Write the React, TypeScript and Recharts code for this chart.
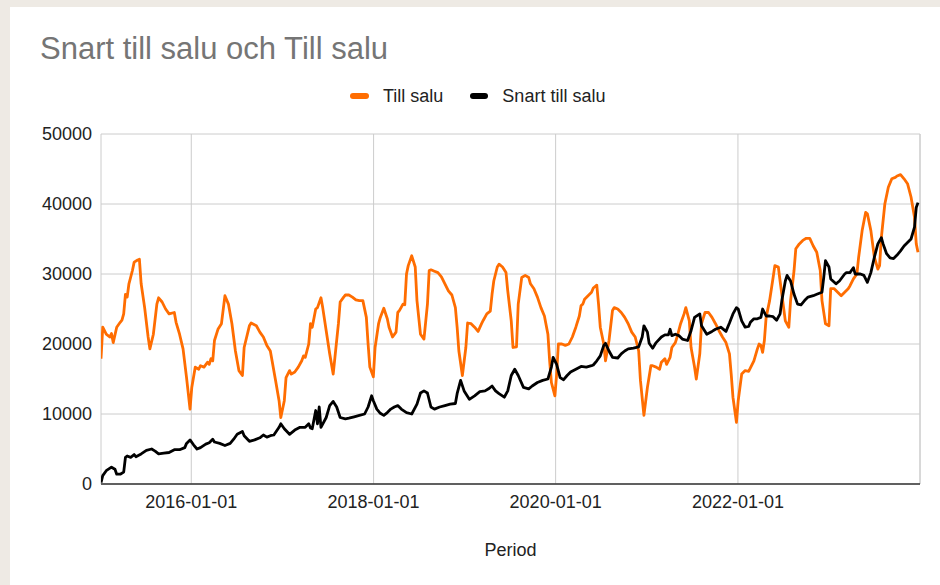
import React from 'react';
import { LineChart, Line, XAxis, YAxis, CartesianGrid, ReferenceLine } from 'recharts';

// Weekly periods, counted in weeks since 2015-01-04
const START = Date.UTC(2015, 0, 4);
const END = Date.UTC(2024, 0, 1);
const WEEK_MS = 7 * 86400000;

const xTickLabels = ['2016-01-01', '2018-01-01', '2020-01-01', '2022-01-01'];
const yTicks = [0, 10000, 20000, 30000, 40000, 50000];

// [week index, value]
const tillSalu: [number, number][] = [
  [0,17900],[1,22400],[3,21400],[5,21000],[6,21500],[7,20200],[9,22400],[11,23100],[12,23400],[13,24300],[14,27100],[15,26700],[16,28600],[18,30500],[19,31700],[21,32000],[22,32100],[23,28600],[25,25200],[27,21000],[28,19300],[30,21400],[32,25700],[33,26600],[35,26000],[37,25000],[39,24300],[42,24500],[43,23100],[45,21400],[47,19300],[49,15200],[51,10700],[52,13800],[54,16700],[56,16400],[57,16900],[59,16700],[61,17400],[62,17100],[63,17900],[64,17600],[65,20500],[67,22100],[69,22900],[71,26900],[73,25700],[75,22900],[77,19000],[79,16200],[81,15500],[82,19500],[85,22600],[86,23000],[89,22600],[91,21700],
  [93,21000],[95,19800],[97,19000],[98,17600],[100,14800],[102,11900],[103,9500],[105,11900],[106,15200],[108,16200],[109,15700],[111,16000],[113,16700],[115,17600],[116,18300],[117,18100],[119,20000],[120,22900],[121,22400],[123,25000],[124,25200],[126,26600],[127,25200],[129,21900],[131,18600],[133,15700],[134,18100],[136,22900],[137,26000],[139,26700],[140,27000],[142,27000],[144,26700],[146,26300],[148,26200],[150,26200],[152,23800],[153,20000],[154,16700],[156,15300],[157,19500],[159,22900],[160,23800],[162,25100],[164,23600],[165,22400],[167,21000],[169,21700],[170,24500],[171,24800],[173,25700],[174,25600],[175,30000],[176,31200],[178,32600],[180,31000],[181,26200],[183,21400],[185,20700],[187,25700],[188,30500],
  [189,30600],[191,30400],[193,30200],[195,29600],[197,28600],[199,27600],[201,27000],[203,25200],[204,22400],[205,19000],[207,15500],[209,19500],[210,23000],[212,22900],[214,22400],[216,21800],[218,22900],[219,23400],[221,24300],[223,24700],[224,27100],[225,29000],[227,31000],[228,31400],[230,31000],[232,30200],[233,27600],[235,23300],[236,19500],[238,19600],[239,25700],[241,29500],[243,29800],[245,29500],[246,28600],[248,27900],[250,26700],[252,25200],[254,24000],[256,21400],[257,17600],[258,14500],[260,12600],[261,15700],[262,20000],[264,20000],[266,19800],[268,20000],[270,21000],[272,22400],[274,24000],[275,25500],[276,25700],[277,26400],[279,26900],[281,27400],[282,28000],[284,28400],
  [285,25700],[286,22400],[288,20000],[289,17600],[291,20500],[293,24800],[294,25200],[296,25000],[298,24500],[300,23800],[302,22900],[304,21700],[306,21000],[308,19000],[309,14800],[311,9800],[313,13800],[315,16900],[316,16900],[318,16700],[320,16400],[321,17400],[323,17900],[324,17100],[326,18100],[327,19500],[329,20200],[330,21000],[332,22900],[334,24300],[335,25200],[337,23300],[338,19500],[340,16700],[341,15000],[343,18600],[344,22900],[346,24500],[348,24500],[350,23800],[352,22900],[354,21900],[356,21000],[358,20200],[360,18600],[361,15700],[362,12400],[364,8800],[365,11900],[367,15700],[369,16200],[371,16100],[372,16600],[374,17600],[376,19300],[377,20000],
  [378,19800],[379,18800],[380,20500],[381,23800],[383,26200],[385,29500],[386,31200],[388,31000],[389,29000],[391,25200],[392,23300],[394,22400],[395,26200],[397,30500],[398,33600],[400,34300],[402,34800],[404,35100],[406,35100],[408,34000],[410,33100],[412,30500],[413,26200],[415,22900],[417,22600],[418,27900],[420,27900],[422,27400],[424,26900],[426,27400],[428,27900],[429,28300],[431,29300],[433,30000],[434,32400],[436,36200],[438,38800],[439,38600],[441,36200],[443,32400],[445,30700],[446,31200],[447,35200],[449,40000],[451,42400],[453,43600],[455,43800],[456,44000],[458,44200],[460,43600],[462,42900],[464,41000],[466,38100],[467,34300],[468,33100],
];

const snartTillSalu: [number, number][] = [
  [0,200],[1,1200],[3,1900],[6,2400],[8,2100],[9,1400],[11,1400],[13,1700],[14,3800],[15,4000],[17,3800],[19,4200],[20,3900],[23,4300],[26,4800],[29,5000],[31,4700],[33,4300],[36,4400],[39,4500],[42,4900],[45,4900],[48,5200],[49,5800],[51,6300],[53,5600],[55,5000],[57,5200],[60,5700],[62,5900],[64,6400],[65,6000],[68,5800],[71,5500],[74,5800],[76,6400],[78,7100],[81,7500],[82,6900],[85,6100],[88,6300],[91,6600],
  [93,7000],[95,6700],[97,6900],[99,7000],[102,8100],[103,8600],[105,7900],[108,7100],[111,7700],[114,8100],[117,8100],[119,8600],[120,8000],[121,7900],[123,10500],[124,8600],[125,11000],[126,8100],[129,9500],[131,11200],[133,11800],[135,11000],[137,9500],[140,9300],[142,9400],[145,9600],[148,9800],[151,10000],[153,11000],[155,12600],[156,11900],[158,10700],[160,10100],[162,9800],[164,10200],[166,10700],[168,11000],[170,11200],[172,10700],[175,10200],[178,10000],[181,11400],[183,13000],[185,13300],
  [187,13000],[189,11000],[191,10700],[194,11000],[197,11200],[200,11400],[203,11500],[204,12900],[206,14800],[208,13300],[211,12100],[214,12600],[217,13200],[220,13300],[222,13600],[224,14000],[226,13300],[228,12900],[231,12400],[233,13300],[235,15500],[237,16400],[239,15500],[242,13800],[245,13600],[247,14000],[250,14500],[253,14800],[256,15000],[258,16700],[259,18100],[261,17100],[263,15200],[265,14900],[267,15500],[269,16000],[272,16400],[275,16800],[278,16700],[281,16900],
  [282,17000],[284,17600],[286,18300],[288,19800],[289,20100],[291,19000],[293,18100],[296,18000],[298,18600],[300,19000],[302,19300],[305,19400],[308,19600],[310,21000],[311,22600],[313,21700],[314,20100],[316,19400],[318,20200],[321,21000],[323,21300],[325,21300],[326,22100],[327,21200],[329,21400],[331,21200],[333,20700],[336,20500],[338,21900],[340,23800],[343,24300],[344,22600],[347,21400],[350,21800],[352,22100],[355,22400],[358,21800],[360,23000],[362,24300],[364,25200],[365,25000],[367,23300],[369,22400],[371,22500],[372,23100],[374,23600],[376,23600],
  [378,23800],[379,25000],[381,24000],[383,24000],[385,23900],[387,23400],[389,24300],[390,26200],[392,29000],[393,29800],[395,29000],[397,27100],[399,25700],[401,25600],[403,26200],[405,26700],[408,26900],[410,27100],[413,27400],[414,29500],[415,31900],[417,31000],[418,29300],[421,28600],[423,29000],[426,30000],[427,30200],[429,30200],[431,30900],[432,30000],[435,30000],[437,29800],[439,28800],[441,30200],[443,32400],[445,34300],[447,35200],[448,34300],[450,32900],[452,32300],[454,32200],[456,32700],[458,33300],[460,34000],[462,34500],[464,35000],[466,36700],[467,39500],[468,40200],
];

const toRows = (pts: [number, number][]) => pts.map(([w, v]) => ({ t: START + w * WEEK_MS, v }));
const tillRows = toRows(tillSalu);
const snartRows = toRows(snartTillSalu);
const xTicks = xTickLabels.map((d) => Date.parse(d + 'T00:00:00Z'));

const fmtDate = (t: number) => new Date(t).toISOString().slice(0, 10);

const FONT = '"Liberation Sans", Arial, sans-serif';
const ORANGE = '#ff6d01';

export default function App() {
  return (
    <div style={{ position: 'fixed', left: 0, top: 0, width: 940, height: 585, background: '#eeeae4', overflow: 'hidden', fontFamily: FONT }}>
      <div style={{ position: 'absolute', left: 10, top: 7, right: -20, bottom: -20, background: '#ffffff' }} />
      <div style={{ position: 'absolute', left: 40, top: 33, fontSize: 31, lineHeight: '31px', color: '#757575', whiteSpace: 'nowrap' }}>
        Snart till salu och Till salu
      </div>
      <div style={{ position: 'absolute', left: 350, top: 87, height: 18, display: 'flex', alignItems: 'center', fontSize: 18, lineHeight: '18px', color: '#222', whiteSpace: 'nowrap' }}>
        <span style={{ display: 'inline-block', width: 19, height: 6, borderRadius: 3, background: ORANGE, marginRight: 14 }} />
        <span>Till salu</span>
        <span style={{ display: 'inline-block', width: 18, height: 6, borderRadius: 3, background: '#000', marginLeft: 27, marginRight: 14 }} />
        <span>Snart till salu</span>
      </div>
      <div style={{ position: 'absolute', left: 0, top: 0 }}>
        <LineChart width={940} height={585} margin={{ top: 134, right: 20, bottom: 0, left: 0 }}>
          <CartesianGrid stroke="#cccccc" strokeWidth={1} />
          <XAxis
            dataKey="t"
            type="number"
            scale="linear"
            domain={[START, END]}
            allowDataOverflow
            ticks={xTicks}
            tickFormatter={fmtDate}
            height={101}
            tickLine={false}
            tickSize={9}
            tickMargin={2}
            axisLine={{ stroke: '#333333', strokeWidth: 1.5 }}
            tick={{ fill: '#222', fontSize: 18, fontFamily: FONT }}
            label={{ value: 'Period', position: 'insideBottom', offset: 29, fill: '#222', fontSize: 18, fontFamily: FONT }}
          />
          <YAxis
            type="number"
            domain={[0, 50000]}
            ticks={yTicks}
            width={101}
            axisLine={false}
            tickLine={false}
            tickSize={7}
            tickMargin={2}
            tick={{ fill: '#222', fontSize: 18, fontFamily: FONT }}
          />
          <ReferenceLine x={END} stroke="#cccccc" strokeWidth={1} ifOverflow="visible" />
          <Line data={tillRows} dataKey="v" name="Till salu" type="linear" stroke={ORANGE} strokeWidth={2.8} dot={false} activeDot={false} isAnimationActive={false} strokeLinejoin="round" />
          <Line data={snartRows} dataKey="v" name="Snart till salu" type="linear" stroke="#000000" strokeWidth={2.8} dot={false} activeDot={false} isAnimationActive={false} strokeLinejoin="round" />
        </LineChart>
      </div>
    </div>
  );
}
